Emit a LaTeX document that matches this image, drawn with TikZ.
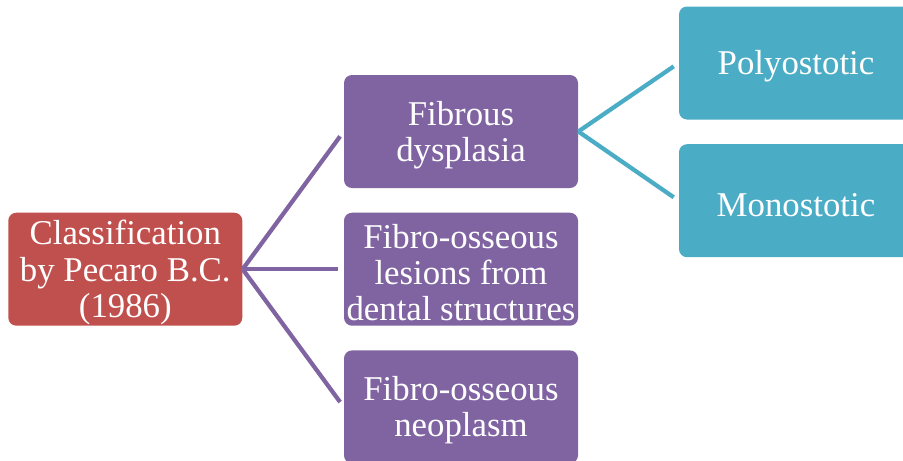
\documentclass[tikz,border=0pt]{standalone}
\usepackage{fontspec}
\setmainfont{Liberation Serif}
\usetikzlibrary{positioning}
\definecolor{rootfill}{HTML}{C0504D}
\definecolor{typefill}{HTML}{8064A2}
\definecolor{formfill}{HTML}{4BACC6}

\begin{document}
\begin{tikzpicture}[
    box/.style={rounded corners=0.16cm, minimum width=4.68cm, minimum height=2.26cm,
                inner xsep=0pt, inner ysep=0pt, align=center, text=white,
                font=\fontsize{19.8}{20.7}\selectfont},
    rootbox/.style={box, fill=rootfill},
    typebox/.style={box, fill=typefill},
    formbox/.style={box, fill=formfill},
    link/.style={line width=0.085cm, shorten >=0.12cm}
]
    \clip (0,0) rectangle (18.06,-9.2);
    \useasboundingbox (0,0) rectangle (18.06,-9.2);

    % Main types in a column, the classification to their left
    \node[typebox] (fibrous) at (9.22,-2.63) {\rule{0pt}{0.62cm}Fibrous\\dysplasia};
    \node[typebox, below=0.48cm of fibrous] (dental) {\rule{0pt}{0.62cm}Fibro-osseous\\lesions from\\dental structures};
    \node[typebox, below=0.48cm of dental] (neoplasm) {\rule{0pt}{0.62cm}Fibro-osseous\\neoplasm};
    \node[rootbox, left=2.02cm of dental] (pecaro) {\rule{0pt}{0.62cm}Classification\\by Pecaro B.C.\\(1986)};

    % Forms of fibrous dysplasia
    \node[formbox] (poly) at (15.92,-1.26) {\rule{0pt}{0.62cm}Polyostotic};
    \node[formbox, below=0.48cm of poly] (mono) {\rule{0pt}{0.62cm}Monostotic};

    \draw[link, typefill] (pecaro.east) -- (fibrous.west);
    \draw[link, typefill] (pecaro.east) -- (dental.west);
    \draw[link, typefill] (pecaro.east) -- (neoplasm.west);

    \draw[link, formfill] (fibrous.east) -- (poly.west);
    \draw[link, formfill] (fibrous.east) -- (mono.west);
\end{tikzpicture}
\end{document}
